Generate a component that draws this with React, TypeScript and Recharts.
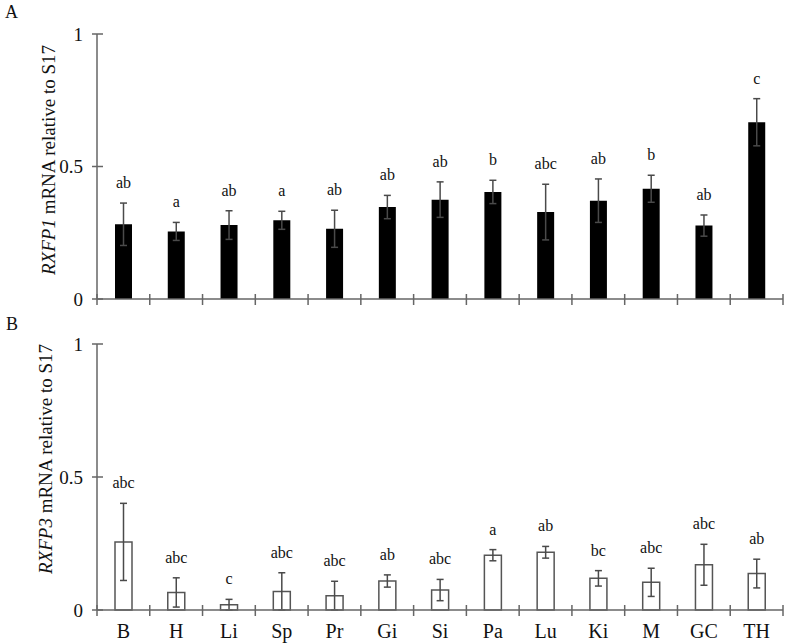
import React from 'react';
import { BarChart, Bar, XAxis, YAxis, ErrorBar, LabelList } from 'recharts';

// ---- data ----
const tissues = ['B', 'H', 'Li', 'Sp', 'Pr', 'Gi', 'Si', 'Pa', 'Lu', 'Ki', 'M', 'GC', 'TH'];

const rxfp1Mean = [0.282, 0.255, 0.279, 0.297, 0.265, 0.347, 0.375, 0.404, 0.328, 0.371, 0.416, 0.277, 0.667];
const rxfp1Err = [0.080, 0.034, 0.054, 0.034, 0.070, 0.044, 0.067, 0.044, 0.105, 0.082, 0.051, 0.040, 0.089];
const rxfp1Letters = ['ab', 'a', 'ab', 'a', 'ab', 'ab', 'ab', 'b', 'abc', 'ab', 'b', 'ab', 'c'];

const rxfp3Mean = [0.256, 0.066, 0.020, 0.070, 0.054, 0.109, 0.075, 0.206, 0.217, 0.119, 0.104, 0.170, 0.137];
const rxfp3Err = [0.145, 0.055, 0.020, 0.070, 0.054, 0.023, 0.040, 0.021, 0.022, 0.029, 0.053, 0.077, 0.054];
const rxfp3Letters = ['abc', 'abc', 'c', 'abc', 'abc', 'ab', 'abc', 'a', 'ab', 'bc', 'abc', 'abc', 'ab'];

const yTicks = [0, 0.5, 1];
const yDomain = [0, 1];

const rxfp1Data = tissues.map((t, i) => ({ tissue: t, mean: rxfp1Mean[i], err: rxfp1Err[i], letter: rxfp1Letters[i] }));
const rxfp3Data = tissues.map((t, i) => ({ tissue: t, mean: rxfp3Mean[i], err: rxfp3Err[i], letter: rxfp3Letters[i] }));

// ---- layout / style ----
const FONT = "'Liberation Serif', 'Times New Roman', serif";
const CHART_W = 787;
const Y_AXIS_W = 97;
const MARGIN_R = 4;
const BAND = (CHART_W - Y_AXIS_W - MARGIN_R) / tissues.length;
const AXIS = '#666';
const TEXT = '#111';
const txt = { fontFamily: FONT };

const XTick = (props: any) => {
  const { x, y, payload, index, showLabel } = props;
  const cx = Number(x);
  const cy = Number(y);
  const half = BAND / 2;
  const last = index === tissues.length - 1;
  return (
    <g>
      <line x1={cx - half} x2={cx - half} y1={cy - 5} y2={cy + 6} stroke={AXIS} strokeWidth={1.5} />
      {last && <line x1={cx + half} x2={cx + half} y1={cy - 5} y2={cy + 6} stroke={AXIS} strokeWidth={1.5} />}
      {showLabel && (
        <text x={cx} y={cy + 28} textAnchor="middle" style={txt} fontSize={20} fill={TEXT}>
          {payload.value}
        </text>
      )}
    </g>
  );
};

const YTick = (props: any) => {
  const { x, y, payload } = props;
  const cx = Number(x);
  const cy = Number(y);
  return (
    <g>
      <line x1={cx - 5} x2={cx + 6} y1={cy} y2={cy} stroke={AXIS} strokeWidth={1.5} />
      <text x={cx - 14} y={cy} dy="0.35em" textAnchor="end" style={txt} fontSize={19} fill={TEXT}>
        {String(payload.value)}
      </text>
    </g>
  );
};

const makeLetterLabel = (means: number[], errs: number[], letters: string[]) => (props: any) => {
  const { x, y, width, height, index } = props;
  const v = means[index];
  const pxPerUnit = Number(height) / v;
  const errTop = Number(y) - errs[index] * pxPerUnit;
  return (
    <text
      key={`lbl-${index}`}
      x={Number(x) + Number(width) / 2}
      y={errTop - 15}
      textAnchor="middle"
      style={txt}
      fontSize={16}
      fill={TEXT}
    >
      {letters[index]}
    </text>
  );
};

const Panel = ({ data, means, errs, letters, height, xAxisH, filled, showLabels }: any) => (
  <BarChart
    width={CHART_W}
    height={height}
    data={data}
    margin={{ top: 34, right: MARGIN_R, bottom: 0, left: 0 }}
    barSize={17}
  >
    <XAxis
      dataKey="tissue"
      interval={0}
      tickLine={false}
      tickSize={0}
      tickMargin={0}
      height={xAxisH}
      axisLine={{ stroke: AXIS, strokeWidth: 1.5 }}
      tick={<XTick showLabel={showLabels} />}
    />
    <YAxis
      type="number"
      domain={yDomain}
      ticks={yTicks}
      width={Y_AXIS_W}
      tickLine={false}
      tickSize={0}
      tickMargin={0}
      axisLine={{ stroke: AXIS, strokeWidth: 1.5 }}
      tick={<YTick />}
    />
    <Bar
      dataKey="mean"
      fill={filled ? '#000' : '#fff'}
      stroke={filled ? '#000' : '#555'}
      strokeWidth={filled ? 0 : 1.5}
      isAnimationActive={false}
    >
      <ErrorBar dataKey="err" width={3.5} stroke="#4a4a4a" strokeWidth={1.5} direction="y" />
      <LabelList dataKey="mean" content={makeLetterLabel(means, errs, letters)} />
    </Bar>
  </BarChart>
);

export default function App() {
  return (
    <div style={{ position: 'absolute', left: 0, top: 0, width: 787, height: 643, background: '#fff', fontFamily: FONT }}>
      <div style={{ position: 'absolute', left: 0, top: 0 }}>
        <Panel data={rxfp1Data} means={rxfp1Mean} errs={rxfp1Err} letters={rxfp1Letters} height={310} xAxisH={11} filled showLabels={false} />
      </div>
      <div style={{ position: 'absolute', left: 0, top: 310 }}>
        <Panel data={rxfp3Data} means={rxfp3Mean} errs={rxfp3Err} letters={rxfp3Letters} height={333} xAxisH={33} filled={false} showLabels />
      </div>
      <svg width={787} height={643} style={{ position: 'absolute', left: 0, top: 0, pointerEvents: 'none' }}>
        <text x={5} y={18} style={txt} fontSize={18} fill={TEXT}>A</text>
        <text x={6} y={330} style={txt} fontSize={18} fill={TEXT}>B</text>
        <text transform="rotate(-90 55 160)" x={55} y={160} textAnchor="middle" style={txt} fontSize={19} fill={TEXT}>
          <tspan fontStyle="italic">RXFP1</tspan> mRNA relative to S17
        </text>
        <text transform="rotate(-90 52 459)" x={52} y={459} textAnchor="middle" style={txt} fontSize={19} fill={TEXT}>
          <tspan fontStyle="italic">RXFP3</tspan> mRNA relative to S17
        </text>
      </svg>
    </div>
  );
}
